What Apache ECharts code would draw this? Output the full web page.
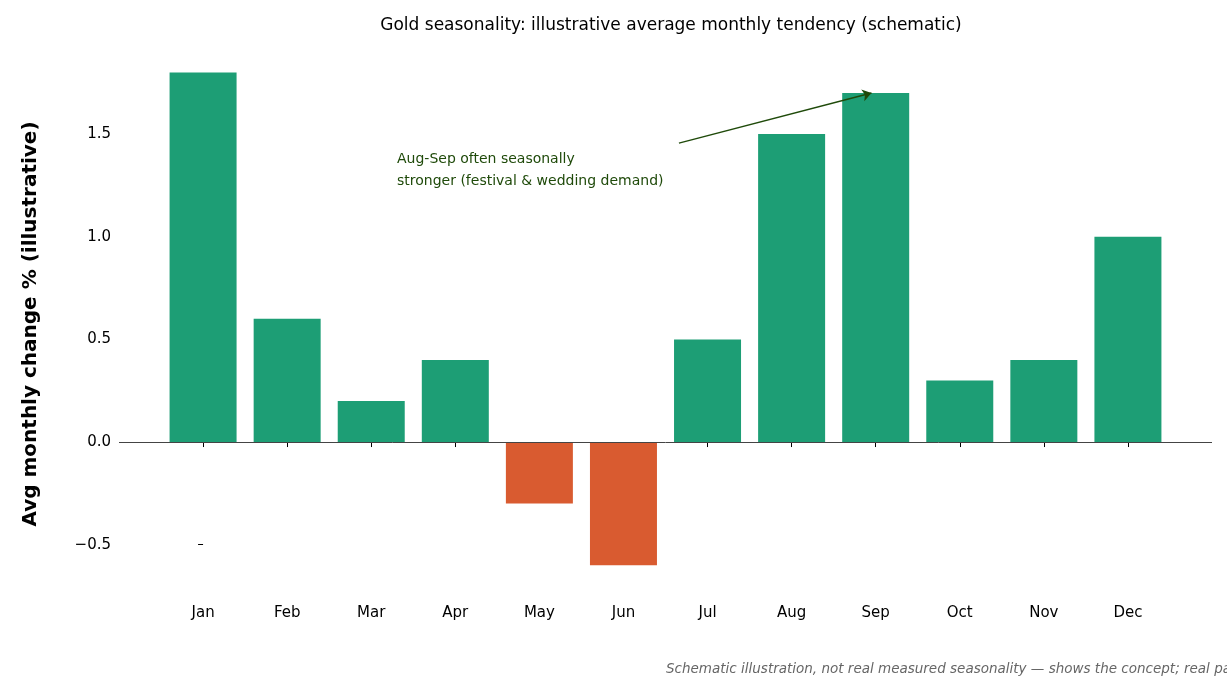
<!DOCTYPE html><html><head><meta charset="utf-8"><script src="https://cdn.jsdelivr.net/npm/echarts@6/dist/echarts.min.js"></script></head><body style="margin:0"><div id="c" style="width:1227px;height:697px"></div><script>
const months=['Jan','Feb','Mar','Apr','May','Jun','Jul','Aug','Sep','Oct','Nov','Dec'];
const values=[1.8,0.6,0.2,0.4,-0.3,-0.6,0.5,1.5,1.7,0.3,0.4,1.0];
const yTicks=[-0.5,0,0.5,1.0,1.5];
const ch=echarts.init(document.getElementById('c'));
const ff='DejaVu Sans';
ch.setOption({animation:false,textStyle:{fontFamily:ff},
title:{text:'Gold seasonality: illustrative average monthly tendency (schematic)',left:666,textAlign:'center',top:12,textStyle:{fontFamily:ff,fontSize:17,fontWeight:'normal',color:'#000'}},
grid:{left:119,right:15,top:52,bottom:101},
xAxis:{type:'value',min:-1,max:12,axisLine:{show:false},splitLine:{show:false},
 axisTick:{show:true,customValues:months.map((m,i)=>i),length:5,lineStyle:{color:'#000'}},
 axisLabel:{customValues:months.map((m,i)=>i),formatter:v=>months[v],fontSize:15,color:'#000',margin:10}},
yAxis:{type:'value',min:-0.75,max:1.9,splitLine:{show:false},axisLine:{show:false},
 axisTick:{show:true,customValues:yTicks,length:5,lineStyle:{color:'#000'}},
 axisLabel:{customValues:yTicks,formatter:v=>(v<0?'\u2212':'')+Math.abs(v).toFixed(1),fontSize:15,color:'#000',margin:8},
 name:'Avg monthly change % (illustrative)',nameLocation:'middle',nameGap:78,nameTextStyle:{fontSize:20,fontWeight:'bold',color:'#000'}},
graphic:[{type:'text',left:397,top:148,style:{text:'Aug-Sep often seasonally\nstronger (festival & wedding demand)',fontSize:14,lineHeight:22,fill:'#1f4a0a',fontFamily:ff}},
{type:'text',left:666,top:662,style:{text:'Schematic illustration, not real measured seasonality — shows the concept; real patterns vary year to year.',fontSize:13.5,fontStyle:'italic',fill:'#666',align:'center',fontFamily:ff}}],
series:[{type:'bar',barWidth:67,data:values.map((v,i)=>({value:[i,v],itemStyle:{color:v<0?'#d95b30':'#1d9e75'}})),
 markLine:{silent:true,symbol:'none',label:{show:false},lineStyle:{color:'#444',type:'solid',width:1},data:[{yAxis:0}]}},
{type:'line',data:[],markLine:{silent:true,symbol:['none','arrow'],symbolSize:9,label:{show:false},lineStyle:{color:'#1f4a0a',type:'solid',width:1.5},
 data:[[{coord:[5.66,1.456]},{coord:[7.95,1.7]}]]}}]});
</script></body></html>
